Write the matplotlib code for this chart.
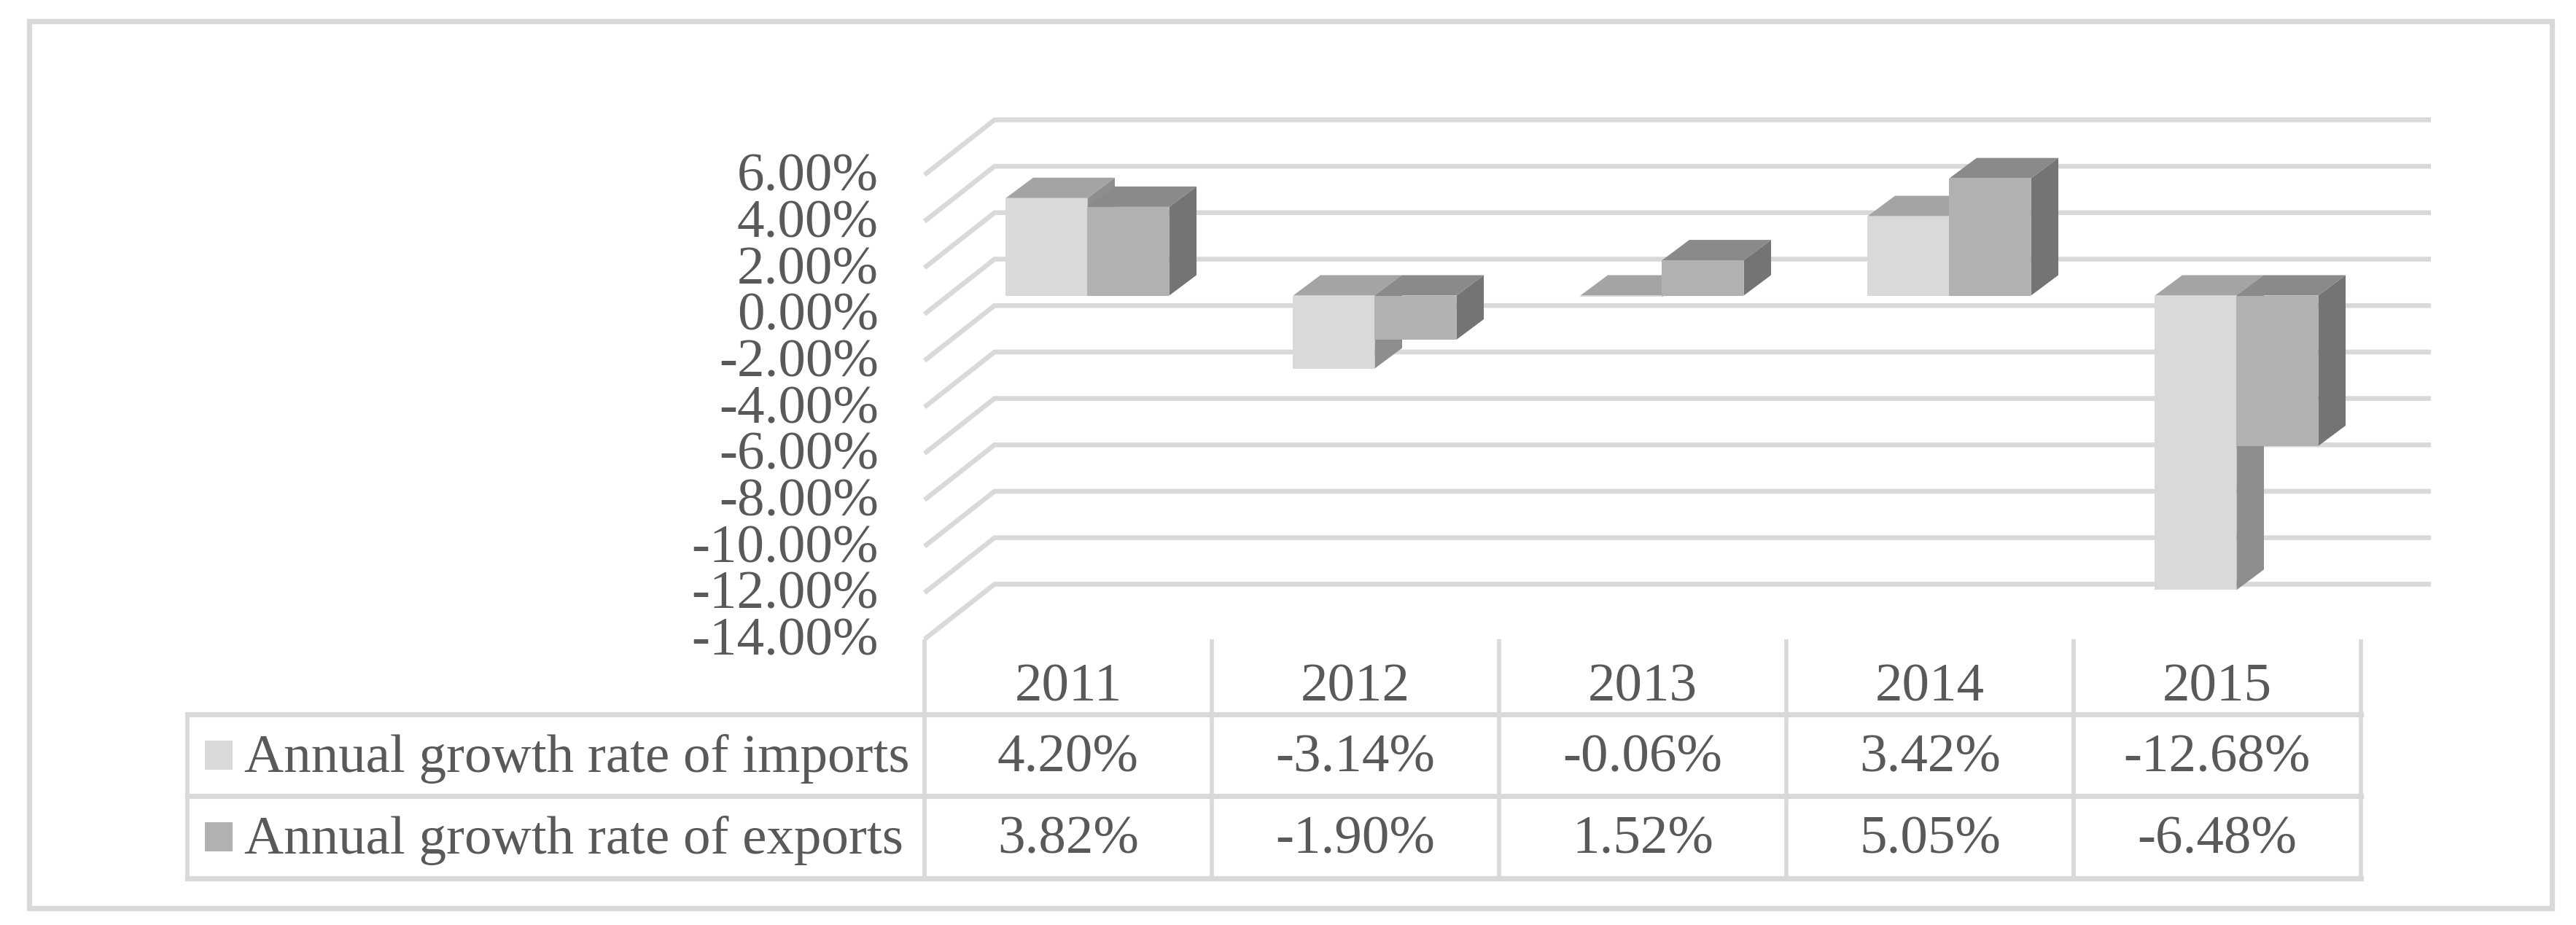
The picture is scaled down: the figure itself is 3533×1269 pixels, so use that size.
import matplotlib
matplotlib.use("Agg")
import matplotlib.pyplot as plt
from matplotlib.patches import Polygon, Rectangle

years = ["2011", "2012", "2013", "2014", "2015"]
imports_rate = [4.20, -3.14, -0.06, 3.42, -12.68]
exports_rate = [3.82, -1.90, 1.52, 5.05, -6.48]
series_names = ["Annual growth rate of imports", "Annual growth rate of exports"]
y_ticks = [6, 4, 2, 0, -2, -4, -6, -8, -10, -12, -14]

W, H = 3533, 1269
PX_X, PX_Y = 394.0, 31.85      # pixels per category / per percentage point
X0, Y0 = 1465.0, 431.0         # pixel of category 0 / of 0 % on the front plane

plt.rcParams["font.family"] = ["Liberation Serif", "DejaVu Serif"]
fig = plt.figure(figsize=(W / 100, H / 100), dpi=100, facecolor="white")
ax = fig.add_axes([0, 0, 1, 1])
ax.set_xlim(-X0 / PX_X, (W - X0) / PX_X)
ax.set_ylim(-(H - Y0) / PX_Y, Y0 / PX_Y)
ax.axis("off")

LINE = "#d9d9d9"
TEXT = "#595959"
FS = 54.0
LW = 6 * 0.72

def dx(px):
    return px / PX_X

def dy(px):
    return px / PX_Y

def ypos(px):
    return (Y0 - px) / PX_Y

def xpos(px):
    return (px - X0) / PX_X

# outer frame
ax.add_patch(Rectangle((40 / W, 1 - 1246 / H), 3460 / W, 1217 / H, transform=ax.transAxes,
                       fill=False, ec=LINE, lw=LW * 1.2, zorder=1))

# gridlines: receding floor of the 3-D box
depth_x, depth_y = dx(96), dy(75.5)
left, right = -0.5, xpos(3334)
for t in y_ticks:
    ax.plot([left, left + depth_x, right], [t, t + depth_y, t + depth_y],
            color=LINE, lw=LW * 1.1, solid_joinstyle="miter", solid_capstyle="butt", zorder=2)
    ax.text(xpos(1205), t + dy(4), f"{t:.2f}%", ha="right", va="center_baseline",
            fontsize=FS, color=TEXT, zorder=6)

# bars
bar_w = dx(112)
off_x, off_y = dx(26.5), dy(25.5)   # front face of the bars relative to the front plane
bd_x, bd_y = dx(37.5), dy(28)       # bar depth
styles = [("#d9d9d9", "#a4a4a4", "#8e8e8e"), ("#b1b1b1", "#8a8a8a", "#747474")]

for i in range(len(years)):
    for s, vals in enumerate((imports_rate, exports_rate)):
        v = vals[i]
        front, top, side = styles[s]
        x0 = i - bar_w + s * bar_w + off_x
        x1 = x0 + bar_w
        lo, hi = sorted((0.0, v))
        lo += off_y
        hi += off_y
        z = 3 + i * 0.1 + s * 0.01
        ax.add_patch(Polygon([(x1, lo), (x1 + bd_x, lo + bd_y), (x1 + bd_x, hi + bd_y), (x1, hi)],
                             fc=side, ec="none", zorder=z))
        ax.add_patch(Polygon([(x0, hi), (x0 + bd_x, hi + bd_y), (x1 + bd_x, hi + bd_y), (x1, hi)],
                             fc=top, ec="none", zorder=z))
        ax.add_patch(Rectangle((x0, lo), bar_w, hi - lo, fc=front, ec="none", zorder=z + 0.001))

# data table
tbl_top, row_mid, tbl_bot = ypos(980), ypos(1092), ypos(1205)
tbl_left = xpos(257)
axis_top = -14
n = len(years)
for k in range(n + 1):
    x = k - 0.5
    ax.plot([x, x], [axis_top, tbl_bot], color=LINE, lw=LW * 0.95, solid_capstyle="butt", zorder=2)
for yy in (tbl_top, row_mid, tbl_bot):
    ax.plot([tbl_left, n - 0.5], [yy, yy], color=LINE, lw=LW * 1.2, solid_capstyle="projecting", zorder=2)
ax.plot([tbl_left, tbl_left], [tbl_top, tbl_bot], color=LINE, lw=LW * 0.95, zorder=2)

for i, yr in enumerate(years):
    ax.text(i, ypos(936), yr, ha="center", va="center_baseline", fontsize=FS, color=TEXT)
    ax.text(i, ypos(1033), f"{imports_rate[i]:.2f}%", ha="center", va="center_baseline", fontsize=FS, color=TEXT)
    ax.text(i, ypos(1145), f"{exports_rate[i]:.2f}%", ha="center", va="center_baseline", fontsize=FS, color=TEXT)

for name, color, cy in zip(series_names, (styles[0][0], styles[1][0]), (1036, 1148)):
    ax.add_patch(Rectangle((xpos(281), ypos(cy + 20)), dx(38), dy(40), fc=color, ec="none", zorder=4))
    ax.text(xpos(335), ypos(cy - 3), name, ha="left", va="center_baseline", fontsize=FS, color=TEXT)

fig.savefig("out.png", dpi=100, facecolor="white")
